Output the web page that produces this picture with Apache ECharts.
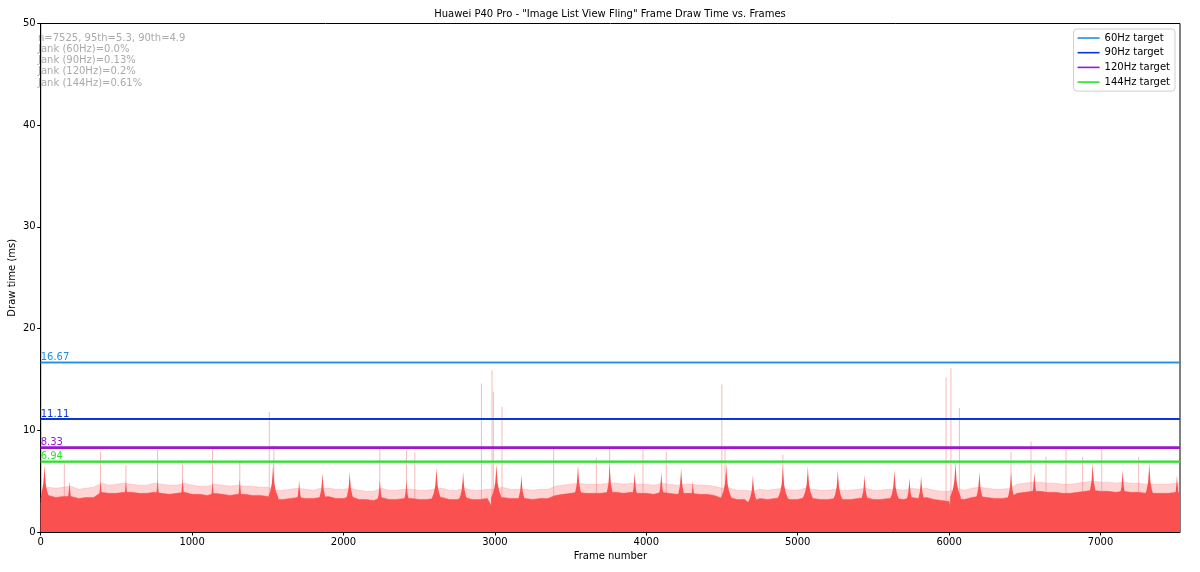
<!DOCTYPE html>
<html><head><meta charset="utf-8">
<script src="https://cdn.jsdelivr.net/npm/echarts/dist/echarts.min.js"></script>
<style>html,body{margin:0;padding:0;background:#fff}#c{width:1200px;height:572px}</style>
</head><body><div id="c"></div>
<script>
// ---- data ----
const FRAME_COUNT = 7525;
const SAMPLE_STEP = 50; // base / noise-top values are sampled every 50 frames
const baseDrawTime = [
  2.8,3.6,3.4,3.5,3.5,3.3,3.4,3.4,3.9,3.8,
  3.8,3.9,3.9,3.8,3.8,3.9,3.8,3.7,3.8,3.9,
  3.7,3.7,3.6,3.8,3.7,3.6,3.7,3.7,3.6,3.6,
  3.5,3.2,3.2,3.3,3.4,3.3,3.3,3.4,3.5,3.3,
  3.3,3.5,3.2,3.2,3.1,3.4,3.2,3.2,3.3,3.3,
  3.2,3.2,3.3,3.4,3.2,3.2,3.4,3.2,3.2,3.3,
  3.0,3.4,3.3,3.3,3.3,3.2,3.3,3.3,3.6,3.7,
  3.8,3.9,3.8,3.8,3.8,3.9,3.9,3.8,3.9,3.8,
  3.8,3.7,3.9,3.8,3.7,3.8,3.8,3.7,3.7,3.6,
  3.3,3.4,3.2,3.2,3.0,3.3,3.2,3.3,3.4,3.2,
  3.2,3.4,3.3,3.2,3.2,3.3,3.2,3.2,3.3,3.4,
  3.2,3.2,3.3,3.3,3.2,3.4,3.3,3.4,3.2,3.1,
  3.0,3.3,3.2,3.4,3.5,3.4,3.3,3.3,3.4,3.8,
  3.9,4.0,4.0,3.9,3.9,3.8,3.8,3.9,4.0,4.1,
  4.0,4.0,3.9,4.0,3.9,3.9,3.8,3.8,3.8,3.8,
  3.9
];
const noiseTopDrawTime = [
  4.0,4.4,4.3,4.4,4.5,4.2,4.3,4.4,4.8,4.6,
  4.7,4.8,4.7,4.6,4.6,4.8,4.7,4.6,4.6,4.8,
  4.6,4.5,4.5,4.7,4.6,4.5,4.6,4.5,4.5,4.4,
  4.4,4.1,4.1,4.2,4.3,4.2,4.1,4.3,4.3,4.2,
  4.2,4.3,4.1,4.0,4.0,4.3,4.1,4.1,4.2,4.2,
  4.1,4.1,4.2,4.3,4.1,4.1,4.3,4.1,4.1,4.2,
  4.2,4.4,4.2,4.2,4.2,4.1,4.2,4.2,4.5,4.6,
  4.7,4.8,4.7,4.7,4.7,4.8,4.8,4.7,4.8,4.7,
  4.7,4.6,4.8,4.7,4.6,4.7,4.7,4.6,4.6,4.5,
  4.3,4.3,4.1,4.1,4.0,4.2,4.1,4.2,4.3,4.1,
  4.1,4.3,4.2,4.1,4.1,4.2,4.1,4.1,4.2,4.3,
  4.1,4.1,4.2,4.2,4.1,4.3,4.2,4.3,4.1,4.0,
  4.0,4.3,4.1,4.3,4.4,4.3,4.2,4.2,4.3,4.7,
  4.8,4.9,4.9,4.8,4.8,4.7,4.7,4.8,4.9,5.0,
  4.9,4.9,4.8,4.9,4.8,4.8,4.7,4.7,4.7,4.7,
  4.8
];
const lastFrame = 7524, lastDrawTime = 3.8;
const peakFrames = [25,190,395,563,772,937,1135,1315,1535,1707,1861,2041,2240,2416,2614,2790,3010,3175,3549,3758,3923,4099,4230,4307,4528,4704,4902,5067,5265,5441,5639,5738,5815,6042,6200,6409,6563,6948,7146,7322,7505];
const peakValues = [6.6,5.0,5.1,5.1,5.2,5.3,5.0,5.2,6.7,5.1,5.8,5.9,5.1,5.1,6.3,5.9,6.7,5.6,6.6,6.6,5.9,5.9,6.3,5.0,6.7,5.6,6.5,6.5,6.1,5.6,6.1,5.3,5.5,6.9,5.9,5.9,5.9,6.8,6.1,6.8,5.6];
const dipFrames = [1515,2990,4505,4681,6015];
const dipValues = [2.2,2.2,2.2,2.8,2.0];
const spikeFrames = [156,395,563,772,937,1135,1315,1510,1540,2240,2416,2471,2911,2981,2990,3047,3388,3670,3758,3978,4132,4499,4520,4902,5980,6012,6068,6409,6541,6640,6772,6882,7008,7252];
const spikeValues = [6.8,7.9,6.6,8.1,6.8,8.1,6.9,11.8,8.5,8.2,8.0,7.8,14.6,15.9,13.8,12.3,8.2,7.3,8.2,8.1,7.9,14.5,8.5,7.6,15.2,16.1,12.2,7.9,8.9,7.4,8.1,7.4,8.2,7.4];
const targetNames = ['60Hz target','90Hz target','120Hz target','144Hz target'];
const targetValues = [16.67, 11.11, 8.33, 6.94];
const targetLabels = ['16.67','11.11','8.33','6.94'];
const targetColors = ['#1f8ee6','#0a36d8','#9a16d0','#2ee02e'];
const targetWidths = [1.4,2,2,1.6];
const statsLines = ['n=7525, 95th=5.3, 90th=4.9','Jank (60Hz)=0.0%','Jank (90Hz)=0.13%','Jank (120Hz)=0.2%','Jank (144Hz)=0.61%'];
const titleText = 'Huawei P40 Pro - "Image List View Fling" Frame Draw Time vs. Frames';

// ---- build series data ----
const basePts = baseDrawTime.map((v,i)=>[i*SAMPLE_STEP, v]);
dipFrames.forEach((f,i)=>basePts.push([f, dipValues[i]]));
basePts.push([lastFrame, lastDrawTime]);
basePts.sort((a,b)=>a[0]-b[0]);
const noisePts = noiseTopDrawTime.map((v,i)=>[i*SAMPLE_STEP, v]);
noisePts.push([lastFrame, noiseTopDrawTime[noiseTopDrawTime.length-1]]);
const spikePts = spikeFrames.map((f,i)=>[f, spikeValues[i]]);
const peakPts = peakFrames.map((f,i)=>[f, peakValues[i]]);

const FILL = '#fa5050';
const FONT = 'DejaVu Sans';
// spike silhouette (relative frame offset, fraction of peak height) - style only
const PEAK_SHAPE = [[-35,0],[-35,0.5],[-18,0.6],[-8,0.72],[-3,0.87],[0,1],[3,0.87],[8,0.72],[18,0.6],[35,0.5],[35,0]];

const chart = echarts.init(document.getElementById('c'), null, {renderer:'canvas'});
const series = [
  {name:'noise', type:'line', data:noisePts, showSymbol:false, symbol:'none', z:1,
   lineStyle:{width:0.6, color:'rgba(250,130,130,0.45)'}, areaStyle:{color:'rgba(250,90,90,0.26)', opacity:1}, silent:true},
  {name:'spikes', type:'custom', data:spikePts, z:1, silent:true, clip:true,
   encode:{x:0,y:1},
   renderItem:(params, api)=>{
     const p0 = api.coord([api.value(0), 0]);
     const p1 = api.coord([api.value(0), api.value(1)]);
     return {type:'line', shape:{x1:p0[0],y1:p0[1],x2:p1[0],y2:p1[1]},
             style:{stroke:'rgba(240,120,120,0.5)', lineWidth:1}};
   }},
  {name:'draw', type:'line', data:basePts, showSymbol:false, symbol:'none', z:2,
   lineStyle:{width:0.5, color:FILL}, areaStyle:{color:FILL, opacity:1}, silent:true},
  {name:'peaks', type:'custom', data:peakPts, z:2, silent:true, clip:true,
   encode:{x:0,y:1},
   renderItem:(params, api)=>{
     const f = api.value(0), v = api.value(1);
     const pts = PEAK_SHAPE.map(s=>api.coord([Math.min(Math.max(f+s[0],0),FRAME_COUNT-1), v*s[1]]));
     return {type:'polygon', shape:{points:pts}, style:{fill:FILL}};
   }}
];
targetValues.forEach((v,i)=>{
  series.push({
    name:targetNames[i], type:'line', data:[[0,v],[FRAME_COUNT,v]], showSymbol:false, symbol:'none', z:3,
    lineStyle:{color:targetColors[i], width:targetWidths[i]}, itemStyle:{color:targetColors[i]},
    markLine:{symbol:'none', silent:true, animation:false,
      lineStyle:{color:targetColors[i], width:targetWidths[i], type:'solid'},
      label:{show:true, position:'insideStartTop', distance:[0,0], formatter:targetLabels[i],
             color:targetColors[i], fontFamily:FONT, fontSize:10},
      data:[{yAxis:v}]}
  });
});

chart.setOption({
  animation:false,
  grid:{left:40.7, right:20, top:23.5, bottom:40, containLabel:false, outerBoundsMode:'none',
        show:true, borderColor:'#000', borderWidth:1, backgroundColor:'transparent'},
  xAxis:{type:'value', min:0, max:FRAME_COUNT, interval:1000,
    name:'Frame number', nameLocation:'middle', nameGap:19, nameMoveOverlap:false,
    nameTextStyle:{fontFamily:FONT, fontSize:10, color:'#000'},
    axisLine:{show:true, lineStyle:{color:'#000', width:1}},
    axisTick:{show:true, length:3.5, lineStyle:{color:'#000'}},
    axisLabel:{fontFamily:FONT, fontSize:10, color:'#000', margin:5, showMaxLabel:false, formatter:(v)=>String(v)},
    splitLine:{show:false}},
  yAxis:{type:'value', min:0, max:50, interval:10,
    name:'Draw time (ms)', nameLocation:'middle', nameGap:23, nameMoveOverlap:false,
    nameTextStyle:{fontFamily:FONT, fontSize:10, color:'#000'},
    axisLine:{show:true, lineStyle:{color:'#000', width:1}},
    axisTick:{show:true, length:3.5, lineStyle:{color:'#000'}},
    axisLabel:{fontFamily:FONT, fontSize:10, color:'#000', margin:5, formatter:(v)=>String(v)},
    splitLine:{show:false}},
  legend:{data:targetNames, orient:'vertical', right:25, top:29, icon:'rect',
    itemWidth:22, itemHeight:1.6, itemGap:0.7, padding:[2,5,2,4],
    backgroundColor:'rgba(255,255,255,0.85)', borderColor:'#d0d0d0', borderWidth:1, borderRadius:3,
    textStyle:{fontFamily:FONT, fontSize:10, color:'#000', lineHeight:14}},
  graphic:[
    {type:'text', x:610, y:9, z:10, style:{text:titleText, font:'10px "DejaVu Sans"', fill:'#000', textAlign:'center'}},
    {type:'text', x:38, y:33, z:0, style:{text:statsLines.join('\n'), font:'10px "DejaVu Sans"', fill:'#aaaaaa', lineHeight:11.1}}
  ],
  series
});
</script></body></html>
